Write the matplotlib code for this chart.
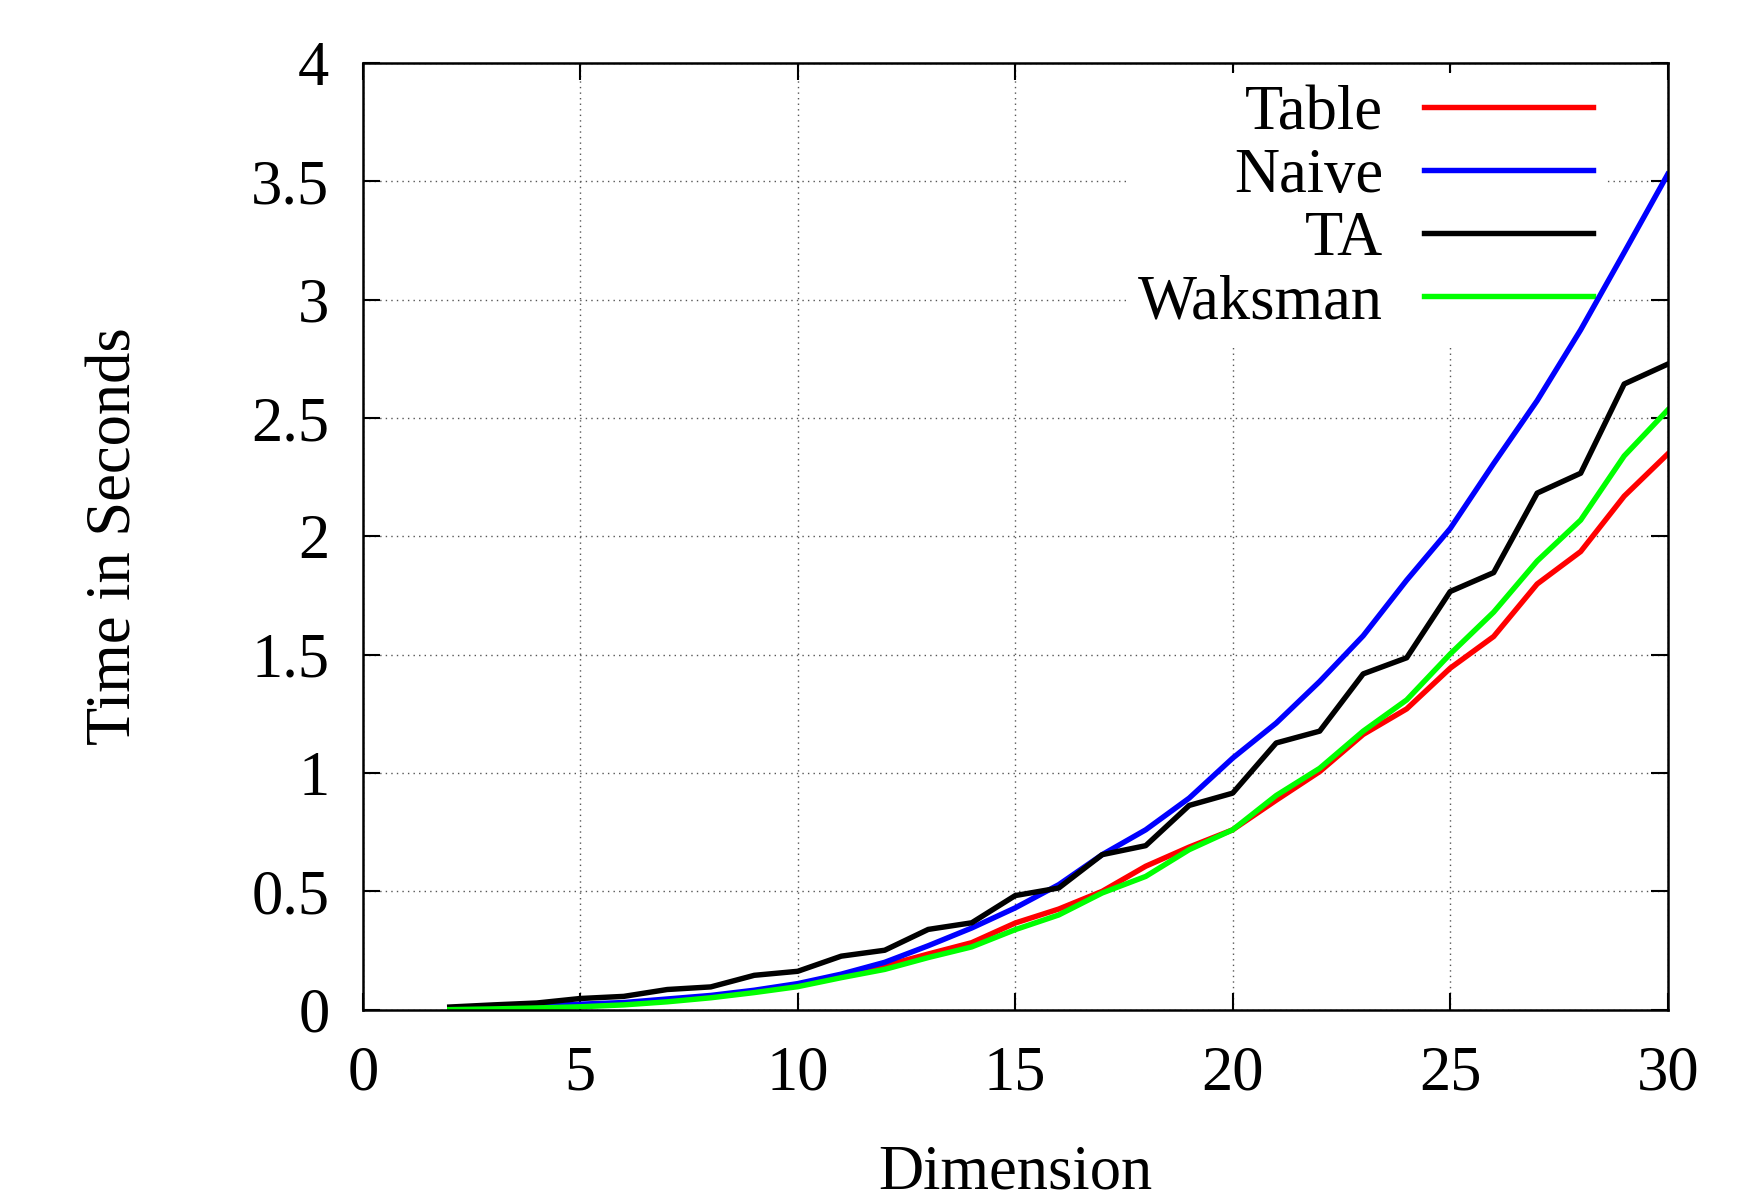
import matplotlib
matplotlib.use('Agg')
import matplotlib.pyplot as plt

# Data
dims = list(range(2, 31))
table = [0.002, 0.005, 0.010, 0.016, 0.025, 0.038, 0.055, 0.078, 0.105, 0.145,
         0.185, 0.235, 0.283, 0.366, 0.425, 0.500, 0.606, 0.687, 0.760, 0.885,
         1.006, 1.163, 1.271, 1.443, 1.577, 1.799, 1.936, 2.170, 2.348]
naive = [0.005, 0.009, 0.015, 0.023, 0.030, 0.045, 0.060, 0.082, 0.110, 0.150,
         0.200, 0.270, 0.345, 0.430, 0.528, 0.655, 0.760, 0.894, 1.063, 1.211,
         1.387, 1.580, 1.815, 2.033, 2.308, 2.574, 2.873, 3.200, 3.530]
ta = [0.011, 0.020, 0.028, 0.047, 0.056, 0.085, 0.096, 0.145, 0.162, 0.226,
      0.251, 0.339, 0.367, 0.482, 0.514, 0.655, 0.693, 0.863, 0.915, 1.127,
      1.177, 1.419, 1.487, 1.767, 1.847, 2.183, 2.267, 2.644, 2.728]
waksman = [0.000, 0.003, 0.007, 0.012, 0.020, 0.033, 0.050, 0.072, 0.097, 0.135,
           0.170, 0.220, 0.265, 0.338, 0.400, 0.493, 0.563, 0.676, 0.760, 0.905,
           1.020, 1.177, 1.309, 1.503, 1.680, 1.896, 2.069, 2.340, 2.534]

xticks = [0, 5, 10, 15, 20, 25, 30]
yticks = [0, 0.5, 1, 1.5, 2, 2.5, 3, 3.5, 4]
ytick_labels = ['0', '0.5', '1', '1.5', '2', '2.5', '3', '3.5', '4']

plt.rcParams['font.family'] = ['Liberation Serif', 'DejaVu Serif']
fs = 45

fig = plt.figure(figsize=(17.61, 11.92), dpi=100)
ax = fig.add_axes([0.206, 0.153, 0.741, 0.794])
ax.set_axisbelow(True)

lw = 3.9
ax.plot(dims, table, color='#ff0000', linewidth=lw, label='Table', zorder=3)
ax.plot(dims, naive, color='#0000ff', linewidth=lw, label='Naive', zorder=3)
ax.plot(dims, ta, color='#000000', linewidth=lw, label='TA', zorder=3)
ax.plot(dims, waksman, color='#00ff00', linewidth=lw, label='Waksman', zorder=3)

ax.set_xlim(0, 30)
ax.set_ylim(0, 4)
ax.set_xticks(xticks)
ax.set_yticks(yticks)
ax.set_yticklabels(ytick_labels)
ax.tick_params(direction='in', length=12, width=1.5, top=True, right=True, labelsize=fs)
ax.tick_params(axis='y', pad=24)
ax.tick_params(axis='x', pad=26)
for s in ax.spines.values():
    s.set_linewidth(1.8)
    s.set_zorder(4)
ax.grid(True, linestyle=(0, (1, 3)), color='#555555', linewidth=1.0)

ax.set_xlabel('Dimension', fontsize=fs, labelpad=29)
ax.set_ylabel('Time in Seconds', fontsize=fs, labelpad=77)

leg = ax.legend(loc='upper right', bbox_to_anchor=(0.952, 0.99), fontsize=fs,
                markerfirst=False, frameon=True, framealpha=1, edgecolor='none',
                facecolor='white', handlelength=2.7, handletextpad=0.65,
                labelspacing=0.08, borderaxespad=0.0, borderpad=0.2,
                fancybox=False)
leg.get_frame().set_linewidth(0)
leg.set_zorder(2)

plt.savefig('out.png', dpi=100)
